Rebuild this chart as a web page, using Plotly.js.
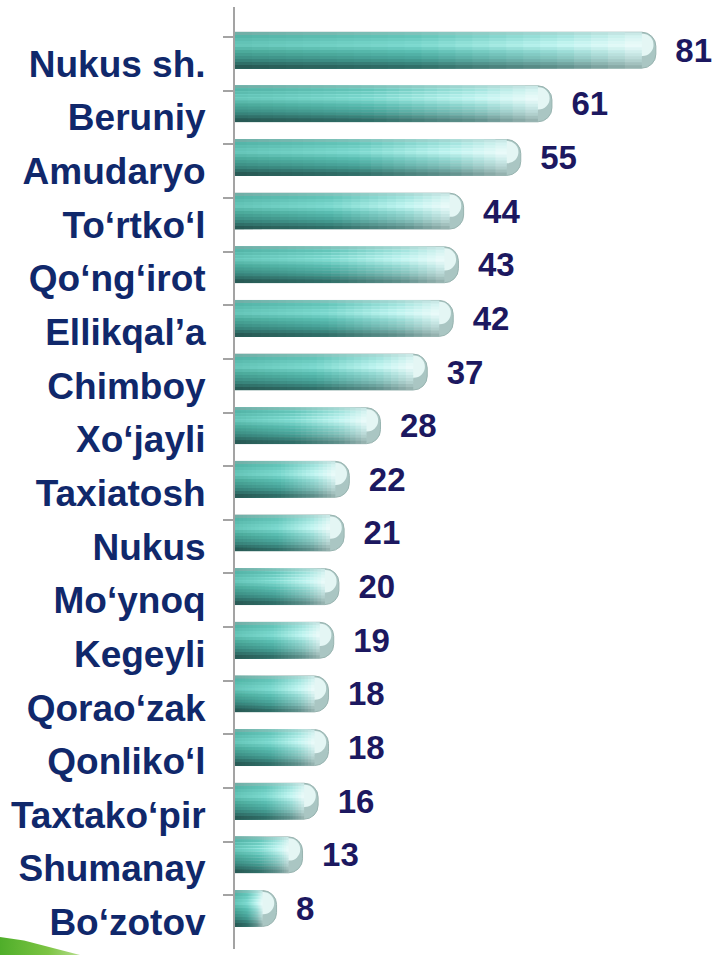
<!DOCTYPE html>
<html>
<head>
<meta charset="utf-8">
<script src="https://cdn.plot.ly/plotly-3.0.1.min.js"></script>
<style>
  html, body { margin: 0; padding: 0; background: #ffffff; }
  #chart { width: 723px; height: 955px; position: relative; }
  #deco { position: absolute; left: 0; top: 937px; width: 80px; height: 18px;
          background: linear-gradient(90deg, #4fae2a 0%, #7cc443 60%, #b5dd8c 100%);
          clip-path: polygon(0 0, 30% 20%, 100% 100%, 0 100%); }
</style>
</head>
<body>
<div id="chart"></div>
<div id="deco"></div>
<script>
// ---- data ----
const categories = [
  "Nukus sh.", "Beruniy", "Amudaryo", "To\u2018rtko\u2018l", "Qo\u2018ng\u2018irot",
  "Ellikqal\u2019a", "Chimboy", "Xo\u2018jayli", "Taxiatosh", "Nukus",
  "Mo\u2018ynoq", "Kegeyli", "Qorao\u2018zak", "Qonliko\u2018l", "Taxtako\u2018pir",
  "Shumanay", "Bo\u2018zotov"
];
const values = [81, 61, 55, 44, 43, 42, 37, 28, 22, 21, 20, 19, 18, 18, 16, 13, 8];

// ---- styling helpers ----
const BAR_OFFSET = -0.59;   // bar shifted up within its category (3D look)
const BAR_WIDTH = 0.67;
const CAP = 2.7;            // length of rounded end (x units)
const STEPS = 24;           // horizontal gradient steps
const SUBBANDS = 12;        // vertical shading steps

// vertical profile keys: f (0 top .. 1 bottom), colours along length t = 0, .45, .8, 1
const profile = [
  { f: 0.00, c: ["#86aca7", "#92c2bc", "#aad4d0", "#c8e4e2"] },
  { f: 0.10, c: ["#52b2a5", "#62c4b8", "#9fe2dc", "#d8f4f2"] },
  { f: 0.36, c: ["#68c8bb", "#80dcd2", "#c6f8f4", "#f0fcfb"] },
  { f: 0.55, c: ["#4aa898", "#58bcb0", "#96dad4", "#d6f0ee"] },
  { f: 0.76, c: ["#3b8a80", "#46a096", "#82c0ba", "#bcd8d6"] },
  { f: 1.00, c: ["#244f4b", "#2c6660", "#5a8884", "#94aeac"] }
];
const stopsT = [0, 0.45, 0.8, 1];

function hex2rgb(h) { return [1,3,5].map(i => parseInt(h.substr(i,2),16)); }
function mix(a, b, u) { return a.map((v, k) => v + (b[k]-v)*u); }
function colourAt(f, t) {
  let j = 0;
  while (j < profile.length - 2 && f > profile[j+1].f) j++;
  const uf = (f - profile[j].f) / (profile[j+1].f - profile[j].f);
  let i = 0;
  while (i < stopsT.length - 2 && t > stopsT[i+1]) i++;
  const ut = (t - stopsT[i]) / (stopsT[i+1] - stopsT[i]);
  const a = mix(hex2rgb(profile[j].c[i]), hex2rgb(profile[j+1].c[i]), uf);
  const b = mix(hex2rgb(profile[j].c[i+1]), hex2rgb(profile[j+1].c[i+1]), uf);
  const r = mix(a, b, ut).map(Math.round);
  return `rgb(${r[0]},${r[1]},${r[2]})`;
}

const traces = [];
// base bar with rounded end and value labels
traces.push({
  type: "bar", orientation: "h",
  y: categories, x: values,
  offset: BAR_OFFSET, width: BAR_WIDTH,
  marker: { color: "#aac6c3", cornerradius: 14, line: { width: 1, color: "#98b4b0" } },
  text: values.map(v => "\u2002" + v),
  textposition: "outside",
  constraintext: "none",
  cliponaxis: false,
  textfont: { family: "Liberation Sans, Arial, sans-serif", size: 33, weight: "bold", color: "#1c1860" },
  hoverinfo: "skip", showlegend: false
});
// pale highlight on the rounded end
traces.push({
  type: "bar", orientation: "h",
  y: categories, x: values.map(v => v - 0.45),
  offset: BAR_OFFSET + BAR_WIDTH * 0.04, width: BAR_WIDTH * 0.62,
  marker: { color: "#e4f6f4", cornerradius: 11, line: { width: 0 } },
  hoverinfo: "skip", showlegend: false
});
// shading sub-bands (cylinder look + horizontal gradient)
for (let s = 0; s < SUBBANDS; s++) {
  const f0 = s / SUBBANDS, f1 = (s + 1) / SUBBANDS, fc = (f0 + f1) / 2;
  const extra = s < SUBBANDS - 1 ? 0.02 : 0;
  for (let k = STEPS; k >= 1; k--) {
    const t = (k - 0.5) / STEPS;
    traces.push({
      type: "bar", orientation: "h",
      y: categories,
      x: values.map(v => (v - CAP) * k / STEPS),
      offset: BAR_OFFSET + BAR_WIDTH * f0,
      width: BAR_WIDTH * (f1 - f0) + extra,
      marker: { color: colourAt(fc, t), line: { width: 0 } },
      hoverinfo: "skip", showlegend: false
    });
  }
}

const layout = {
  width: 723, height: 955,
  margin: { l: 235, r: 10, t: 7, b: 6 },
  paper_bgcolor: "#ffffff", plot_bgcolor: "#ffffff",
  barmode: "overlay",
  showlegend: false,
  xaxis: { range: [0, 92], visible: false, showgrid: false, zeroline: false },
  yaxis: {
    type: "category",
    range: [16.5, -1.06],
    tickson: "boundaries",
    ticks: "outside", ticklen: 10, tickwidth: 2, tickcolor: "#a3a3a3",
    showline: true, linecolor: "#a3a3a3", linewidth: 2,
    showgrid: false, zeroline: false,
    ticklabelstandoff: 20,
    tickfont: { family: "Liberation Sans, Arial, sans-serif", size: 37, weight: "bold", color: "#10286b" }
  }
};

Plotly.newPlot("chart", traces, layout, { displayModeBar: false, staticPlot: true });
</script>
</body>
</html>
